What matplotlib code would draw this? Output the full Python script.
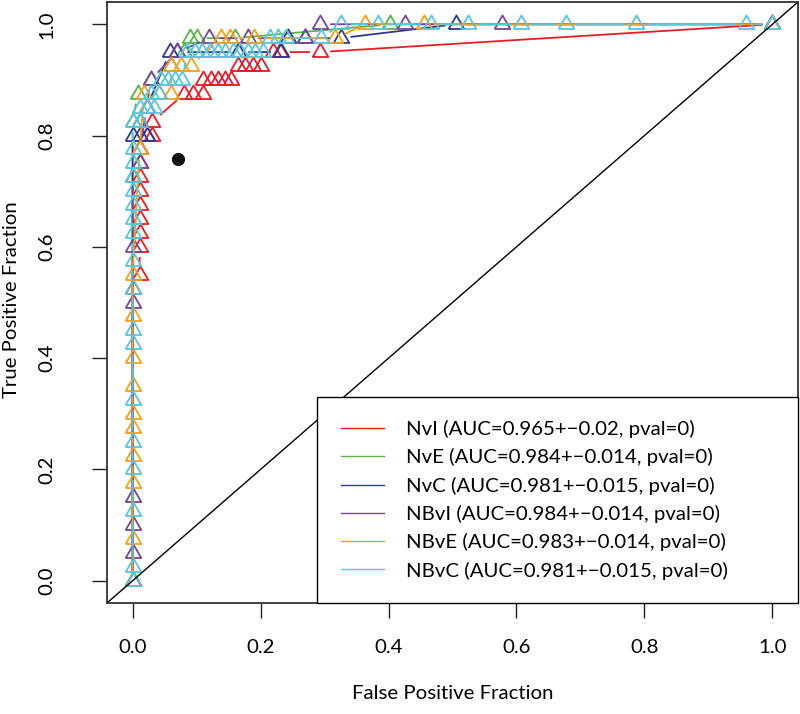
import numpy as np
import matplotlib

matplotlib.use("agg")
import matplotlib.pyplot as plt
from matplotlib.lines import Line2D

plt.rcParams["font.family"] = ["Lato", "DejaVu Sans"]

# ROC points (false positive fraction, true positive fraction)
nvi_fpr = [0, 0, 0.011, 0.011, 0.011, 0.011, 0.011, 0.011, 0.011, 0.011, 0.011,
           0.022, 0.031, 0.031, 0.081, 0.094, 0.11, 0.11, 0.122, 0.133, 0.144,
           0.154, 0.165, 0.176, 0.188, 0.2, 0.219, 0.23, 0.293, 1.0]
nvi_tpr = [0, 0.525, 0.55, 0.6, 0.625, 0.65, 0.675, 0.7, 0.725, 0.75, 0.775,
           0.8, 0.8, 0.825, 0.875, 0.875, 0.875, 0.9, 0.9, 0.9, 0.9,
           0.9, 0.925, 0.925, 0.925, 0.925, 0.95, 0.95, 0.95, 1.0]

nve_fpr = [0, 0, 0.008, 0.028, 0.06, 0.08, 0.09, 0.10, 0.16, 0.403, 1.0]
nve_tpr = [0, 0.825, 0.875, 0.9, 0.925, 0.95, 0.975, 0.975, 0.975, 1.0, 1.0]

nvc_fpr = [0, 0, 0.011, 0.022, 0.011, 0.022, 0.058, 0.07, 0.165, 0.232,
           0.243, 0.27, 0.325, 0.505, 1.0]
nvc_tpr = [0, 0.8, 0.8, 0.8, 0.825, 0.85, 0.95, 0.95, 0.95, 0.95,
           0.975, 0.975, 0.975, 1.0, 1.0]

nbvi_fpr = [0, 0, 0, 0, 0, 0, 0, 0.011, 0.011, 0.022, 0.028, 0.07,
            0.12, 0.18, 0.27, 0.293, 0.425, 0.577, 1.0]
nbvi_tpr = [0, 0.05, 0.1, 0.15, 0.5, 0.6, 0.725, 0.75, 0.775, 0.85, 0.9, 0.95,
            0.975, 0.975, 0.975, 1.0, 1.0, 1.0, 1.0]

nbve_fpr = [0, 0, 0, 0, 0, 0, 0, 0, 0, 0, 0.011, 0.018, 0.042, 0.06, 0.06,
            0.075, 0.091, 0.138, 0.152, 0.19, 0.317, 0.364, 0.455, 1.0]
nbve_tpr = [0, 0.075, 0.175, 0.225, 0.275, 0.3, 0.35, 0.4, 0.475, 0.55, 0.775,
            0.875, 0.875, 0.875, 0.925, 0.925, 0.925, 0.975, 0.975, 0.975,
            0.975, 1.0, 1.0, 1.0]

nbvc_fpr = [0, 0, 0, 0, 0, 0, 0, 0, 0, 0, 0, 0, 0, 0, 0, 0, 0, 0,
            0.011, 0.011, 0.022, 0.033, 0.028, 0.042,
            0.045, 0.056, 0.067, 0.078,
            0.085, 0.097, 0.109, 0.121, 0.133, 0.145, 0.157, 0.168, 0.18,
            0.192, 0.204,
            0.215, 0.227, 0.239, 0.295,
            0.325, 0.384, 0.466, 0.525, 0.607, 0.677, 0.787, 0.959, 1.0]
nbvc_tpr = [0, 0.025, 0.125, 0.2, 0.25, 0.325, 0.425, 0.45, 0.525, 0.575,
            0.625, 0.65, 0.675, 0.7, 0.725, 0.75, 0.775, 0.825,
            0.825, 0.85, 0.85, 0.85, 0.875, 0.875,
            0.9, 0.9, 0.9, 0.9,
            0.95, 0.95, 0.95, 0.95, 0.95, 0.95, 0.95, 0.95, 0.95,
            0.95, 0.95,
            0.975, 0.975, 0.975, 0.975,
            1.0, 1.0, 1.0, 1.0, 1.0, 1.0, 1.0, 1.0, 1.0]

labels = ["NvI (AUC=0.965+\u22120.02, pval=0)",
          "NvE (AUC=0.984+\u22120.014, pval=0)",
          "NvC (AUC=0.981+\u22120.015, pval=0)",
          "NBvI (AUC=0.984+\u22120.014, pval=0)",
          "NBvE (AUC=0.983+\u22120.014, pval=0)",
          "NBvC (AUC=0.981+\u22120.015, pval=0)"]
colors = ["#E41E26", "#5BB446", "#2E3B8F", "#77479B", "#F6A01D", "#5BC5DC"]

point_fpr = [0.0705]
point_tpr = [0.758]

series = [(nvi_fpr, nvi_tpr), (nve_fpr, nve_tpr), (nvc_fpr, nvc_tpr),
          (nbvi_fpr, nbvi_tpr), (nbve_fpr, nbve_tpr), (nbvc_fpr, nbvc_tpr)]

fig = plt.figure(figsize=(8, 7.14), dpi=100)
ax = fig.add_axes([107 / 800, 1 - 603 / 714, 691 / 800, 601 / 714])
ax.set_xlim(-0.04, 1.04)
ax.set_ylim(-0.04, 1.04)

# equilateral triangle, like R's pch=2
tri = [(-1, -0.5774), (1, -0.5774), (0, 1.1547), (-1, -0.5774)]


def gapped(xs, ys, gap):
    # R type="b": segments stop short of the points
    pts = ax.transData.transform(np.column_stack([xs, ys]))
    inv = ax.transData.inverted()
    gx, gy = [], []
    for p, q in zip(pts[:-1], pts[1:]):
        v = q - p
        n = np.hypot(v[0], v[1])
        if n <= 2 * gap:
            continue
        u = v / n
        a = inv.transform(p + u * gap)
        b = inv.transform(q - u * gap)
        gx += [a[0], b[0], np.nan]
        gy += [a[1], b[1], np.nan]
    return gx, gy


for (fx, ty), c in zip(series, colors):
    gx, gy = gapped(fx, ty, 11)
    ax.plot(gx, gy, color=c, lw=1.3)
    ax.plot(fx, ty, ls="none", marker=tri, ms=13, mfc="none", mec=c, mew=1.3)

ax.plot([-0.04, 1.04], [-0.04, 1.04], color="black", lw=1.0)
ax.plot(point_fpr, point_tpr, "o", color="#111111", ms=8.5)

fs = 14.7
handles = [Line2D([0], [0], color=c, lw=1.0) for c in colors]
leg = ax.legend(handles, labels, loc="lower left", mode="expand",
                bbox_to_anchor=(0.304, 0, 0.696, 0.3), borderaxespad=0,
                fontsize=fs, frameon=True, fancybox=False, framealpha=1,
                edgecolor="black", handlelength=2.15, handletextpad=1.05,
                borderpad=1.15, labelspacing=0.5)
leg.get_frame().set_linewidth(1.0)

ticks = [0.0, 0.2, 0.4, 0.6, 0.8, 1.0]
ax.set_xticks(ticks)
ax.set_yticks(ticks)
ax.set_xticklabels(["%.1f" % t for t in ticks])
ax.set_yticklabels(["%.1f" % t for t in ticks], rotation=90, va="center")
ax.tick_params(length=11, width=1.0, labelsize=fs, color="#222222")
ax.tick_params(axis="x", pad=15)
ax.tick_params(axis="y", pad=26)
for s in ax.spines.values():
    s.set_linewidth(1.3)
    s.set_color("#333333")

ax.set_xlabel("False Positive Fraction", fontsize=fs)
ax.xaxis.set_label_coords(0.5, -0.15)
ax.xaxis.label.set_va("center")
ax.set_ylabel("True Positive Fraction", fontsize=fs)
ax.yaxis.set_label_coords(-0.138, 0.504)
ax.yaxis.label.set_va("center")

fig.savefig("out.png", dpi=100)
